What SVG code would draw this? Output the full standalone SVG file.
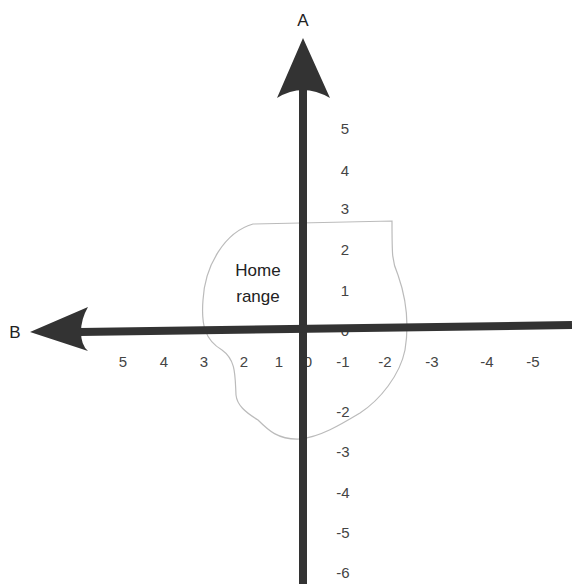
<svg xmlns="http://www.w3.org/2000/svg" width="572" height="584" viewBox="0 0 572 584">
<style>
.ax{stroke:#333;stroke-width:8;fill:none}
.head{fill:#333}
.t{font-family:"Liberation Sans",Arial,sans-serif;font-size:15px;fill:#444;text-anchor:middle;dominant-baseline:central}
.big{font-family:"Liberation Sans",Arial,sans-serif;font-size:17px;fill:#222;text-anchor:middle;dominant-baseline:central}
.hr{fill:none;stroke:#bbb;stroke-width:1.2}
</style>
<rect width="572" height="584" fill="#fff"/>
<g id="home-range">
<path class="hr" d="M253,224 C225,232 205,265 203,300 C201,325 205,340 222,350 C236,360 235,375 236,395 C237,405 245,412 258,420 C268,430 278,440 300,439 C320,437 340,425 360,413 C380,400 400,375 405,350 C410,320 405,295 398,275 C392,262 392,255 392,221 Z"/>
<text class="big" x="258" y="270">Home</text>
<text class="big" x="258" y="296">range</text>
</g>
<g id="labels">
<text class="t" x="345" y="128">5</text>
<text class="t" x="345" y="170">4</text>
<text class="t" x="345" y="208">3</text>
<text class="t" x="345" y="249">2</text>
<text class="t" x="345" y="290">1</text>
<text class="t" x="345" y="330">0</text>
<text class="t" x="123" y="361">5</text>
<text class="t" x="164" y="361">4</text>
<text class="t" x="204" y="361">3</text>
<text class="t" x="244" y="361">2</text>
<text class="t" x="279" y="361">1</text>
<text class="t" x="308" y="361">0</text>
<text class="t" x="343" y="361">-1</text>
<text class="t" x="385" y="361">-2</text>
<text class="t" x="432" y="361">-3</text>
<text class="t" x="487" y="361">-4</text>
<text class="t" x="533" y="361">-5</text>
<text class="t" x="343" y="411">-2</text>
<text class="t" x="343" y="451">-3</text>
<text class="t" x="343" y="492">-4</text>
<text class="t" x="343" y="532">-5</text>
<text class="t" x="343" y="572">-6</text>
</g>
<g id="connectors">
<line class="ax" x1="303" y1="85" x2="303" y2="584"/>
<path class="head" d="M303,38 L330,98 Q316,90 303,90 Q290,90 277,98 Z"/>
<line class="ax" x1="80" y1="332" x2="572" y2="325"/>
<path class="head" d="M30,332 L88,307 Q81,319 81,332 Q81,345 88,351 Z"/>
</g>
<g id="axis-A"><text class="big" x="303" y="20">A</text></g>
<g id="axis-B"><text class="big" x="15" y="332">B</text></g>
</svg>
